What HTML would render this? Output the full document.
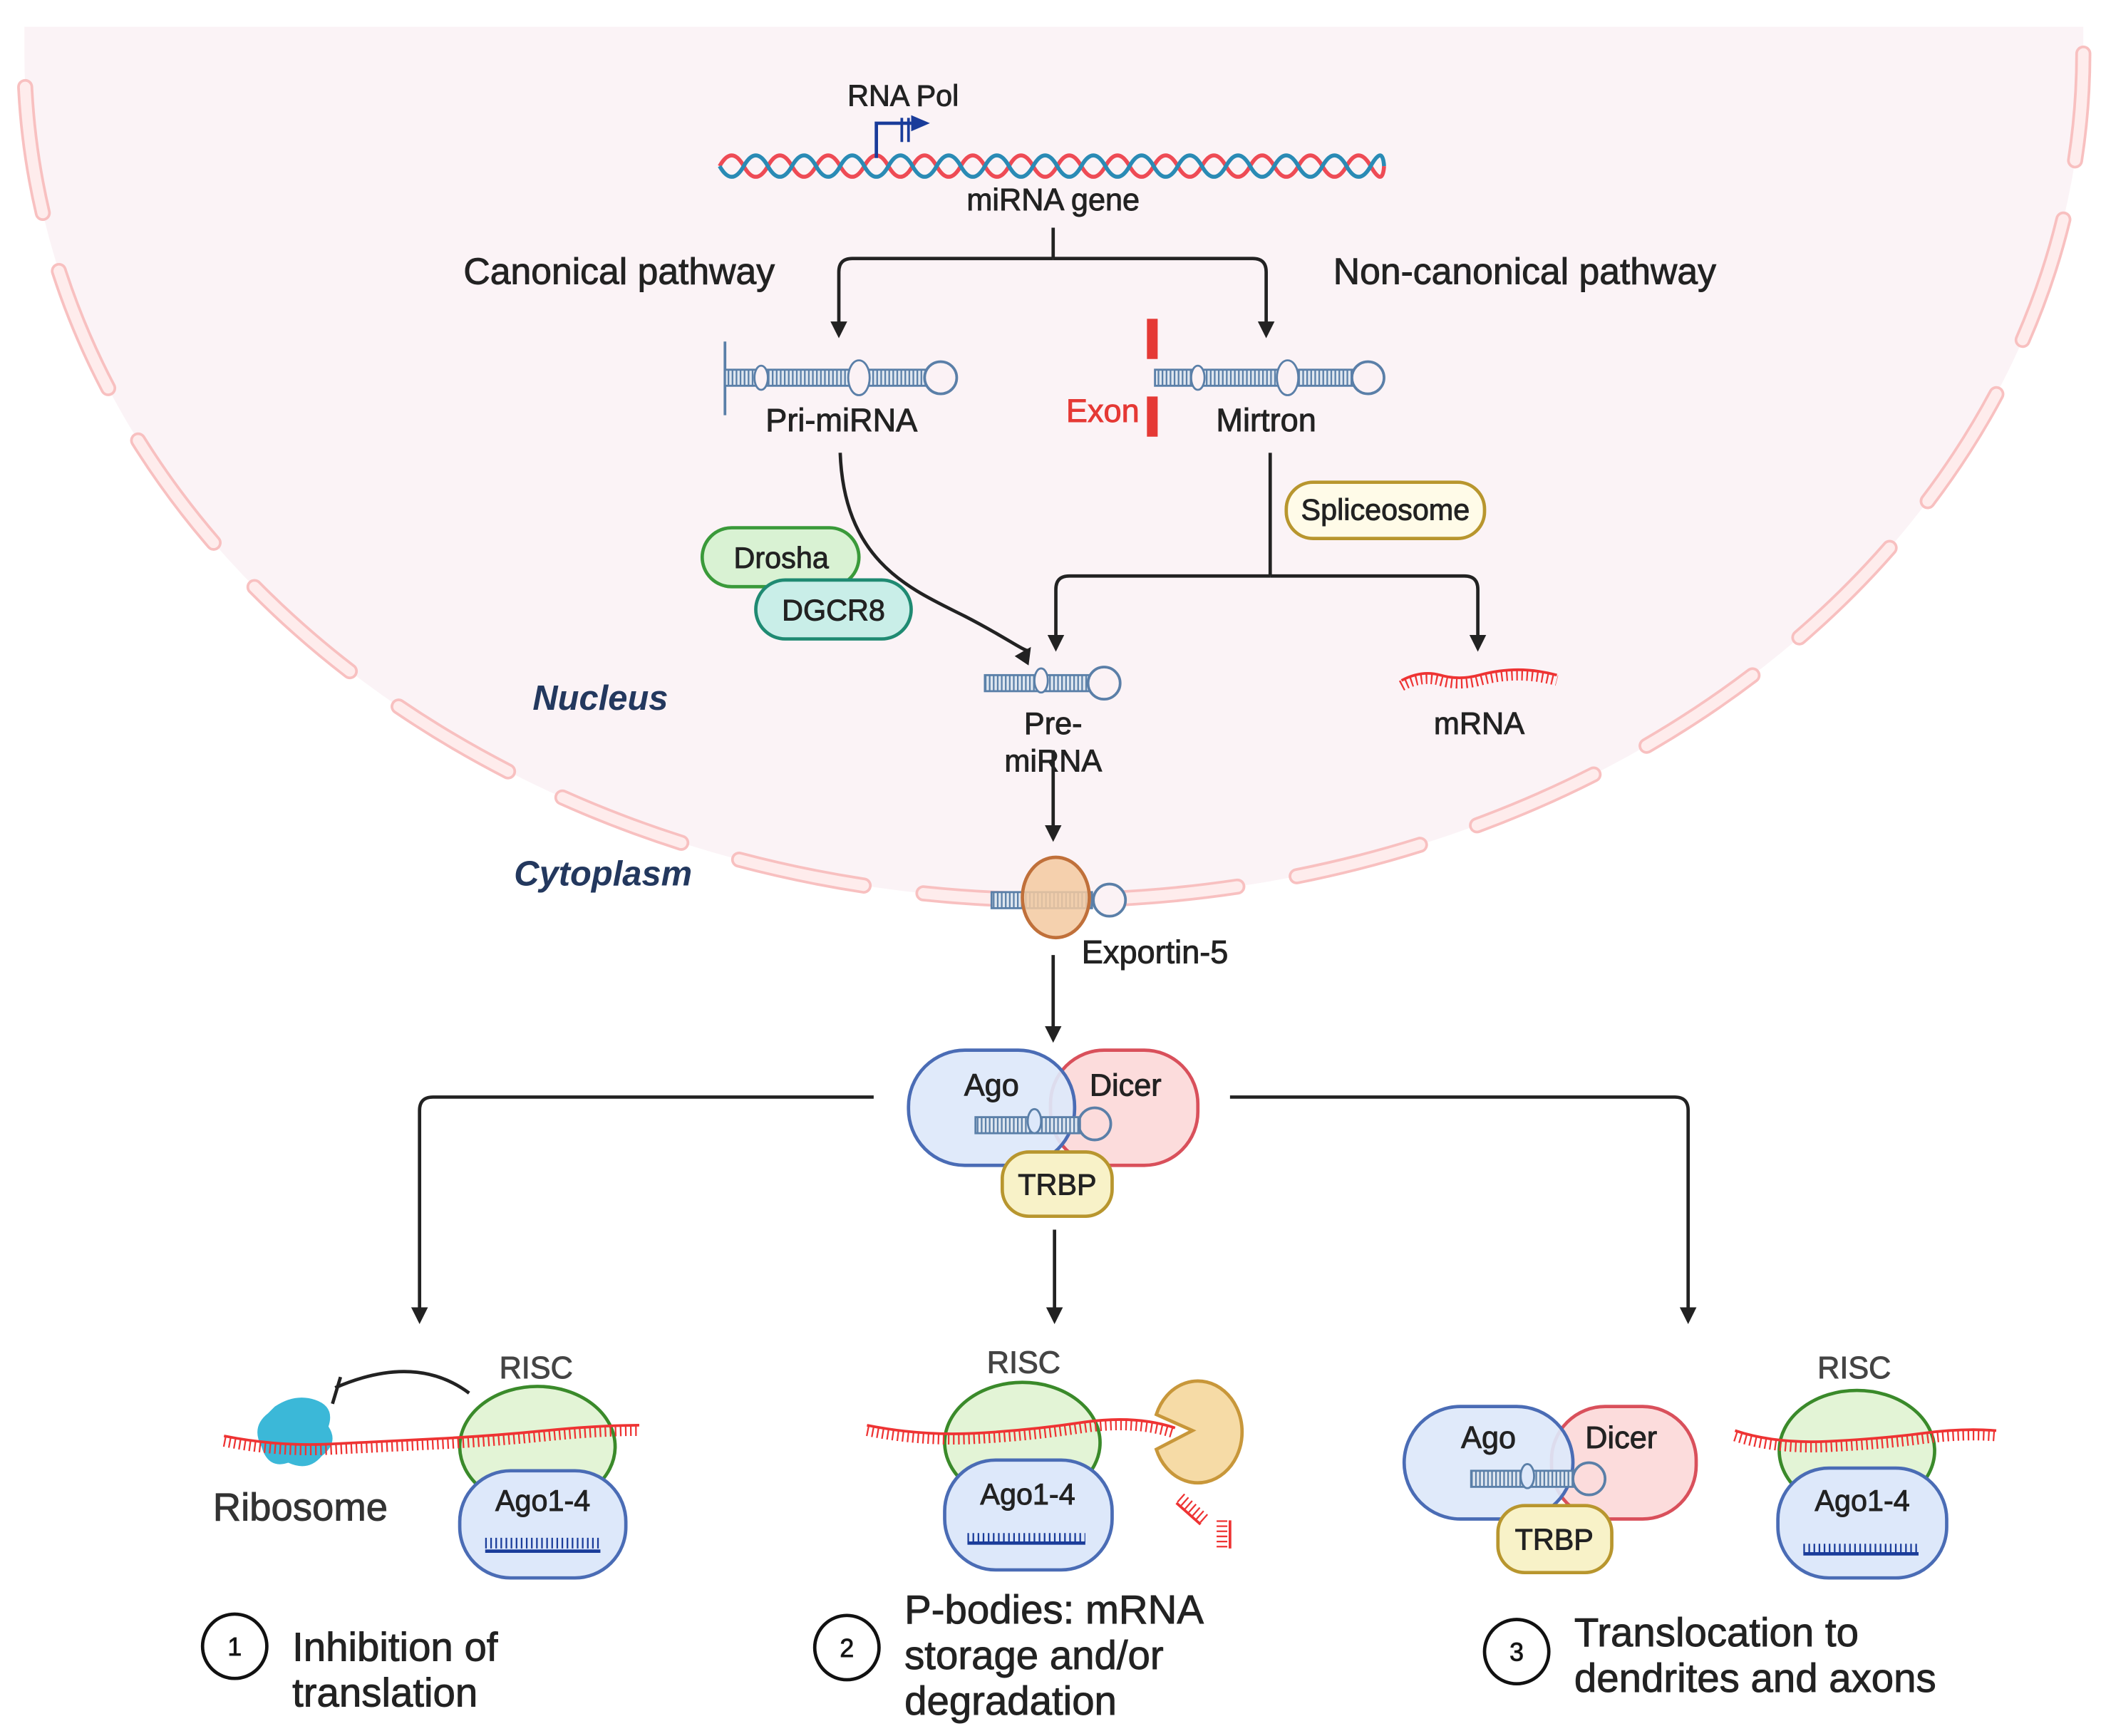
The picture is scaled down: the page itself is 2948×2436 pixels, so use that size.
<!DOCTYPE html>
<html><head><meta charset="utf-8"><style>
html,body{margin:0;padding:0;background:#fff;}
svg{display:block;}
text{font-family:"Liberation Sans",sans-serif;stroke:#222;stroke-width:0.5;}
</style></head><body>
<svg width="2948" height="2436" viewBox="0 0 1568 1296" xmlns="http://www.w3.org/2000/svg">
<defs>
<pattern id="rungs" width="3" height="10" patternUnits="userSpaceOnUse"><rect width="3" height="10" fill="#dfe7f0"/><rect width="1.2" height="10" fill="#5a7fa8"/></pattern>
<marker id="ah" viewBox="0 0 10 10" refX="8" refY="5" markerWidth="5" markerHeight="5" orient="auto"><path d="M0,0 L10,5 L0,10 z" fill="#222"/></marker>
</defs>
<rect width="1568" height="1296" fill="#fff"/>
<!-- nucleus -->
<path d="M18,20 L1555,20 L1555,40 A768.5,632 0 0 1 18,40 Z" fill="#fbf3f6"/>
<path d="M18,40 A768.5,632 0 0 0 1555,40" fill="none" stroke="#f8c0c0" stroke-width="12" stroke-dasharray="95 45" stroke-dashoffset="-25" stroke-linecap="round"/>
<path d="M18,40 A768.5,632 0 0 0 1555,40" fill="none" stroke="#feecec" stroke-width="8" stroke-dasharray="95 45" stroke-dashoffset="-25" stroke-linecap="round"/>

<!-- DNA -->
<path d="M537,124 q9,-16 18,0 t18,0 t18,0 t18,0 t18,0 t18,0 t18,0 t18,0 t18,0 t18,0 t18,0 t18,0 t18,0 t18,0 t18,0 t18,0 t18,0 t18,0 t18,0 t18,0 t18,0 t18,0 t18,0 t18,0 t18,0 t18,0 t18,0 t10,0" fill="none" stroke="#ee4b55" stroke-width="3"/>
<path d="M537,124 q9,16 18,0 t18,0 t18,0 t18,0 t18,0 t18,0 t18,0 t18,0 t18,0 t18,0 t18,0 t18,0 t18,0 t18,0 t18,0 t18,0 t18,0 t18,0 t18,0 t18,0 t18,0 t18,0 t18,0 t18,0 t18,0 t18,0 t18,0 t10,0" fill="none" stroke="#2a8bb5" stroke-width="3"/>
<path d="M654,118 V92 H680" fill="none" stroke="#1a3c9a" stroke-width="2.5"/>
<path d="M680,86 L694,92 L680,98 z" fill="#1a3c9a"/>
<path d="M673,88 V106 M678,88 V106" stroke="#1a3c9a" stroke-width="2"/>
<text x="674" y="79" font-size="22" text-anchor="middle" fill="#222">RNA Pol</text>
<text x="786" y="157" font-size="23" text-anchor="middle" fill="#222">miRNA gene</text>

<!-- branch -->
<path d="M786,170 V193 M786,193 H935 q10,0 10,10 V250" fill="none" stroke="#222" stroke-width="2.5" marker-end="url(#ah)"/>
<path d="M786,193 H636 q-10,0 -10,10 V250" fill="none" stroke="#222" stroke-width="2.5" marker-end="url(#ah)"/>
<text x="462" y="212" font-size="27.5" text-anchor="middle" fill="#222">Canonical pathway</text>
<text x="1138" y="212" font-size="27.5" text-anchor="middle" fill="#222">Non-canonical pathway</text>

<!-- Pri-miRNA -->
<path d="M541,255 V310" stroke="#5a7fa8" stroke-width="2"/>
<rect x="541" y="276" width="160" height="12" fill="url(#rungs)" stroke="#5a7fa8" stroke-width="1.5"/>
<ellipse cx="568" cy="282" rx="5" ry="9" fill="#fbf2f5" stroke="#5a7fa8" stroke-width="1.5"/>
<ellipse cx="641" cy="282" rx="8" ry="13" fill="#fbf2f5" stroke="#5a7fa8" stroke-width="1.5"/>
<circle cx="702" cy="282" r="12" fill="#fbf2f5" stroke="#5a7fa8" stroke-width="2"/>
<text x="628" y="322" font-size="24" text-anchor="middle" fill="#222">Pri-miRNA</text>

<!-- Mirtron -->
<rect x="856" y="238" width="8" height="30" fill="#e53935"/>
<rect x="856" y="296" width="8" height="30" fill="#e53935"/>
<rect x="862" y="276" width="160" height="12" fill="url(#rungs)" stroke="#5a7fa8" stroke-width="1.5"/>
<ellipse cx="894" cy="282" rx="5" ry="9" fill="#fbf2f5" stroke="#5a7fa8" stroke-width="1.5"/>
<ellipse cx="961" cy="282" rx="8" ry="13" fill="#fbf2f5" stroke="#5a7fa8" stroke-width="1.5"/>
<circle cx="1021" cy="282" r="12" fill="#fbf2f5" stroke="#5a7fa8" stroke-width="2"/>
<text x="823" y="315" font-size="24" text-anchor="middle" fill="#e53935" style="stroke:#e53935">Exon</text>
<text x="945" y="322" font-size="24" text-anchor="middle" fill="#222">Mirtron</text>

<!-- Drosha path -->
<path d="M627,338 C630,420 680,440 720,460 C755,478 766,488 768,485" fill="none" stroke="#222" stroke-width="2.5" marker-end="url(#ah)"/>
<rect x="524" y="394" width="117" height="44" rx="22" fill="#d9f2d3" stroke="#3a9a3a" stroke-width="2.5"/>
<text x="583" y="424" font-size="22" text-anchor="middle" fill="#222">Drosha</text>
<rect x="564" y="433" width="116" height="44" rx="22" fill="#c9eee8" stroke="#1f8a72" stroke-width="2.5"/>
<text x="622" y="463" font-size="22" text-anchor="middle" fill="#222">DGCR8</text>

<!-- spliceosome -->
<path d="M948,338 V430 M948,430 H798 q-10,0 -10,10 V484" fill="none" stroke="#222" stroke-width="2.5" marker-end="url(#ah)"/>
<path d="M948,430 H1093 q10,0 10,10 V484" fill="none" stroke="#222" stroke-width="2.5" marker-end="url(#ah)"/>
<rect x="960" y="360" width="148" height="42" rx="20" fill="#fffbe8" stroke="#b8962e" stroke-width="2.5"/>
<text x="1034" y="388" font-size="22" text-anchor="middle" fill="#222">Spliceosome</text>

<!-- pre-miRNA -->
<rect x="735" y="504" width="78" height="12" fill="url(#rungs)" stroke="#5a7fa8" stroke-width="1.5"/>
<ellipse cx="777" cy="508" rx="5" ry="9" fill="#fbf2f5" stroke="#5a7fa8" stroke-width="1.5"/>
<circle cx="824" cy="510" r="12" fill="#fbf2f5" stroke="#5a7fa8" stroke-width="2"/>
<text x="786" y="548" font-size="23" text-anchor="middle" fill="#222">Pre-</text>
<text x="786" y="576" font-size="23" text-anchor="middle" fill="#222">miRNA</text>
<path d="M786,560 V626" stroke="#222" stroke-width="2.5" marker-end="url(#ah)"/>

<!-- mRNA nucleus -->
<g transform="translate(1046,506)"><path d="M0,2 q15,-8 29,-4 t29,0 t29,-4 t29,4" fill="none" stroke="#e33" stroke-width="2"/><path d="M0,6 q15,-8 29,-4 t29,0 t29,-4 t29,4" fill="none" stroke="#e33" stroke-width="8" stroke-dasharray="1.2 2.6"/></g>
<text x="1104" y="548" font-size="23" text-anchor="middle" fill="#222">mRNA</text>

<text x="448" y="530" font-size="26" font-style="italic" font-weight="bold" text-anchor="middle" fill="#23385e" style="stroke:none">Nucleus</text>
<text x="450" y="661" font-size="26" font-style="italic" font-weight="bold" text-anchor="middle" fill="#23385e" style="stroke:none">Cytoplasm</text>

<!-- exportin -->
<rect x="740" y="666" width="75" height="12" fill="url(#rungs)" stroke="#5a7fa8" stroke-width="1.5"/>
<circle cx="828" cy="672" r="12" fill="#fbf2f5" stroke="#5a7fa8" stroke-width="2"/>
<ellipse cx="788" cy="670" rx="25" ry="30" fill="#f3c9a0" fill-opacity="0.85" stroke="#c0703a" stroke-width="2.5"/>
<text x="862" y="719" font-size="24" text-anchor="middle" fill="#222">Exportin-5</text>
<path d="M786,713 V776" stroke="#222" stroke-width="2.5" marker-end="url(#ah)"/>

<!-- Ago/Dicer complex -->
<rect x="784" y="784" width="110" height="86" rx="40" fill="#fcdcdc" stroke="#d9505b" stroke-width="2.5"/>
<rect x="678" y="784" width="124" height="86" rx="42" fill="#dde8fa" fill-opacity="0.92" stroke="#4a6cb5" stroke-width="2.5"/>
<rect x="728" y="834" width="78" height="12" fill="url(#rungs)" stroke="#5a7fa8" stroke-width="1.5"/>
<ellipse cx="772" cy="837" rx="5" ry="9" fill="#dde8fa" stroke="#5a7fa8" stroke-width="1.5"/>
<circle cx="817" cy="839" r="12" fill="none" stroke="#5a7fa8" stroke-width="2"/>
<rect x="748" y="860" width="82" height="48" rx="20" fill="#f8f2c8" stroke="#b8962e" stroke-width="2.5"/>
<text x="740" y="818" font-size="23" text-anchor="middle" fill="#222">Ago</text>
<text x="840" y="818" font-size="23" text-anchor="middle" fill="#222">Dicer</text>
<text x="789" y="892" font-size="22" text-anchor="middle" fill="#222">TRBP</text>

<!-- branches -->
<path d="M652,819 H323 q-10,0 -10,10 V986" fill="none" stroke="#222" stroke-width="2.5" marker-end="url(#ah)"/>
<path d="M918,819 H1250 q10,0 10,10 V986" fill="none" stroke="#222" stroke-width="2.5" marker-end="url(#ah)"/>
<path d="M787,918 V986" stroke="#222" stroke-width="2.5" marker-end="url(#ah)"/>

<!-- Left RISC -->
<text x="400" y="1029" font-size="23" text-anchor="middle" fill="#444" style="stroke:#444">RISC</text>
<path d="M205,1050 q15,-10 30,-5 q15,5 10,20 q8,12 -5,22 q-10,12 -25,5 q-15,5 -20,-12 q-8,-15 5,-25 z" fill="#3bb8d8"/>
<path d="M350,1040 q-40,-30 -100,-4" fill="none" stroke="#222" stroke-width="2.5"/>
<path d="M254,1028 L248,1048" stroke="#222" stroke-width="2.5"/>
<ellipse cx="401" cy="1080" rx="58" ry="45" fill="#e3f4d6" stroke="#3a8a2a" stroke-width="2.5"/>
<g transform="translate(167,1072)"><path d="M0,0 q40,8 80,6 t80,-4 t80,-6 t70,-4" fill="none" stroke="#e33" stroke-width="2"/><path d="M0,4 q40,8 80,6 t80,-4 t80,-6 t70,-4" fill="none" stroke="#e33" stroke-width="8" stroke-dasharray="1.2 2.6"/></g>
<rect x="343" y="1098" width="124" height="80" rx="38" fill="#dde8fa" stroke="#4a6cb5" stroke-width="2.5"/>
<text x="405" y="1128" font-size="22" text-anchor="middle" fill="#222">Ago1-4</text>
<path d="M362,1158 H448" stroke="#1a3c9a" stroke-width="2.5"/>
<path d="M362,1152 H448" stroke="#1a3c9a" stroke-width="8" stroke-dasharray="1.2 2.6"/>
<text x="224" y="1135" font-size="29" text-anchor="middle" fill="#333" style="stroke:#333">Ribosome</text>

<!-- Middle RISC -->
<text x="764" y="1025" font-size="23" text-anchor="middle" fill="#444" style="stroke:#444">RISC</text>
<ellipse cx="763" cy="1077" rx="58" ry="45" fill="#e3f4d6" stroke="#3a8a2a" stroke-width="2.5"/>
<g transform="translate(647,1064)"><path d="M0,0 q40,8 80,6 t80,-8 t70,4" fill="none" stroke="#e33" stroke-width="2"/><path d="M0,4 q40,8 80,6 t80,-8 t70,4" fill="none" stroke="#e33" stroke-width="8" stroke-dasharray="1.2 2.6"/></g>
<rect x="705" y="1090" width="125" height="82" rx="38" fill="#dde8fa" stroke="#4a6cb5" stroke-width="2.5"/>
<text x="767" y="1123" font-size="22" text-anchor="middle" fill="#222">Ago1-4</text>
<path d="M722,1152 H810" stroke="#1a3c9a" stroke-width="2.5"/>
<path d="M722,1148 H810" stroke="#1a3c9a" stroke-width="7" stroke-dasharray="1.2 2.6"/>
<path d="M890,1068 L863,1056 A33,38 0 1 1 863,1082 Z" fill="#f6dba6" stroke="#c8973a" stroke-width="2.5"/>
<path d="M878,1122 L896,1138" stroke="#e33" stroke-width="2"/>
<path d="M878,1122 L896,1138" stroke="#e33" stroke-width="8" stroke-dasharray="1.2 2.6" transform="translate(3,-4)"/>
<path d="M918,1135 V1156" stroke="#e33" stroke-width="2"/>
<path d="M912,1135 V1156" stroke="#e33" stroke-width="8" stroke-dasharray="1.2 2.6"/>

<!-- Right -->
<rect x="1158" y="1050" width="108" height="84" rx="40" fill="#fcdcdc" stroke="#d9505b" stroke-width="2.5"/>
<rect x="1048" y="1050" width="126" height="84" rx="42" fill="#dde8fa" fill-opacity="0.92" stroke="#4a6cb5" stroke-width="2.5"/>
<rect x="1098" y="1098" width="76" height="12" fill="url(#rungs)" stroke="#5a7fa8" stroke-width="1.5"/>
<ellipse cx="1140" cy="1102" rx="5" ry="9" fill="#dde8fa" stroke="#5a7fa8" stroke-width="1.5"/>
<circle cx="1186" cy="1104" r="12" fill="none" stroke="#5a7fa8" stroke-width="2"/>
<rect x="1118" y="1124" width="85" height="50" rx="20" fill="#f8f2c8" stroke="#b8962e" stroke-width="2.5"/>
<text x="1111" y="1081" font-size="23" text-anchor="middle" fill="#222">Ago</text>
<text x="1210" y="1081" font-size="23" text-anchor="middle" fill="#222">Dicer</text>
<text x="1160" y="1157" font-size="22" text-anchor="middle" fill="#222">TRBP</text>

<text x="1384" y="1029" font-size="23" text-anchor="middle" fill="#444" style="stroke:#444">RISC</text>
<ellipse cx="1386" cy="1083" rx="58" ry="45" fill="#e3f4d6" stroke="#3a8a2a" stroke-width="2.5"/>
<g transform="translate(1295,1068)"><path d="M0,0 q30,10 70,8 t70,-6 t55,-2" fill="none" stroke="#e33" stroke-width="2"/><path d="M0,4 q30,10 70,8 t70,-6 t55,-2" fill="none" stroke="#e33" stroke-width="8" stroke-dasharray="1.2 2.6"/></g>
<rect x="1327" y="1096" width="126" height="82" rx="38" fill="#dde8fa" stroke="#4a6cb5" stroke-width="2.5"/>
<text x="1390" y="1128" font-size="22" text-anchor="middle" fill="#222">Ago1-4</text>
<path d="M1346,1160 H1432" stroke="#1a3c9a" stroke-width="2.5"/>
<path d="M1346,1156 H1432" stroke="#1a3c9a" stroke-width="7" stroke-dasharray="1.2 2.6"/>

<!-- labels -->
<circle cx="175" cy="1229" r="24" fill="#fff" stroke="#111" stroke-width="2.5"/>
<text x="175" y="1236" font-size="19" text-anchor="middle" fill="#111">1</text>
<text x="218" y="1240" font-size="30" fill="#222">Inhibition of</text>
<text x="218" y="1274" font-size="30" fill="#222">translation</text>

<circle cx="632" cy="1230" r="24" fill="#fff" stroke="#111" stroke-width="2.5"/>
<text x="632" y="1237" font-size="19" text-anchor="middle" fill="#111">2</text>
<text x="675" y="1212" font-size="30" fill="#222">P-bodies: mRNA</text>
<text x="675" y="1246" font-size="30" fill="#222">storage and/or</text>
<text x="675" y="1280" font-size="30" fill="#222">degradation</text>

<circle cx="1132" cy="1233" r="24" fill="#fff" stroke="#111" stroke-width="2.5"/>
<text x="1132" y="1240" font-size="19" text-anchor="middle" fill="#111">3</text>
<text x="1175" y="1229" font-size="30" fill="#222">Translocation to</text>
<text x="1175" y="1263" font-size="30" fill="#222">dendrites and axons</text>
</svg>
</body></html>
